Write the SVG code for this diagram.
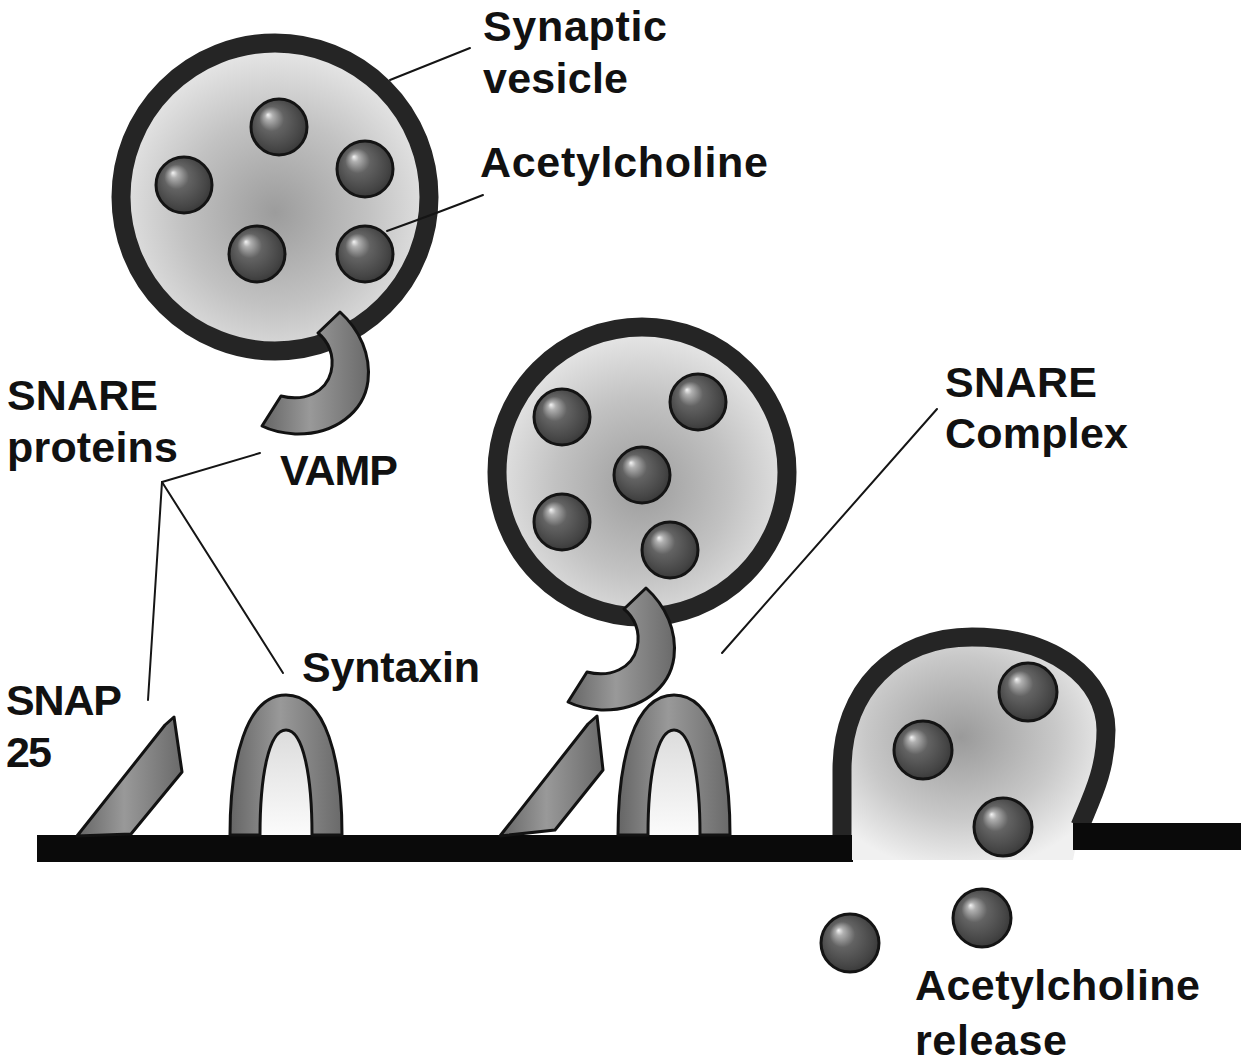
<svg xmlns="http://www.w3.org/2000/svg" width="1243" height="1064" viewBox="0 0 1243 1064">
  <defs>
    <!-- shaded acetylcholine sphere -->
    <radialGradient id="ballGrad" cx="0.48" cy="0.48" r="0.58" fx="0.3" fy="0.28">
      <stop offset="0" stop-color="#f4f4f4"/>
      <stop offset="0.12" stop-color="#b0b0b0"/>
      <stop offset="0.38" stop-color="#636363"/>
      <stop offset="0.8" stop-color="#454545"/>
      <stop offset="1" stop-color="#333333"/>
    </radialGradient>
    <!-- vesicle lumen -->
    <radialGradient id="lumenGrad" cx="0.5" cy="0.55" r="0.55">
      <stop offset="0" stop-color="#9c9c9c"/>
      <stop offset="0.55" stop-color="#c2c2c2"/>
      <stop offset="1" stop-color="#e9e9e9"/>
    </radialGradient>
    <radialGradient id="exoGrad" cx="0.45" cy="0.45" r="0.6">
      <stop offset="0" stop-color="#9a9a9a"/>
      <stop offset="0.6" stop-color="#c8c8c8"/>
      <stop offset="1" stop-color="#f0f0f0"/>
    </radialGradient>
    <!-- protein body shading -->
    <linearGradient id="protGrad" x1="0" y1="0" x2="1" y2="0">
      <stop offset="0" stop-color="#656565"/>
      <stop offset="0.45" stop-color="#999999"/>
      <stop offset="1" stop-color="#6a6a6a"/>
    </linearGradient>
    <linearGradient id="holeGrad" x1="0" y1="0" x2="0" y2="1">
      <stop offset="0" stop-color="#dcdcdc"/>
      <stop offset="1" stop-color="#fbfbfb"/>
    </linearGradient>
    <style>
      .ball { fill: url(#ballGrad); stroke: #141414; stroke-width: 3; }
      .lumen { fill: url(#lumenGrad); }
      .membrane { fill: none; stroke: #252525; stroke-width: 19; }
      .prot { fill: url(#protGrad); stroke: #121212; stroke-width: 3; stroke-linejoin: round; }
      .hole { fill: url(#holeGrad); }
      .bar { fill: #0a0a0a; }
      .lead { fill: none; stroke: #151515; stroke-width: 2; stroke-linecap: round; }
      .lbl { font-family: "Liberation Sans", Arial, sans-serif; font-weight: bold; font-size: 43px; fill: #111; }
    </style>
    <!-- VAMP hook, drawn in the frame of the upper vesicle -->
    <path id="hook" d="M 340 312 C 360 330, 371 355, 368 381 C 364 412, 335 435, 295 434 C 281 433, 270 430, 262 426 L 281 396 C 305 402, 326 392, 331 372 C 335 355, 328 341, 318 333 Z"/>
    <!-- syntaxin arch, origin at the centre of its foot -->
    <path id="arch" d="M -56 0 C -56 -75, -40 -140, 0 -140 C 40 -140, 56 -75, 56 0 L 26 0 C 26 -60, 17 -105, 0 -105 C -17 -105, -26 -60, -26 0 Z"/>
    <path id="archHole" d="M 26 0 C 26 -60, 17 -105, 0 -105 C -17 -105, -26 -60, -26 0 Z"/>
  </defs>

  <rect width="1243" height="1064" fill="#ffffff"/>

  <!-- plasma membrane -->
  <g id="membrane">
    <rect class="bar" x="37" y="835" width="816" height="27"/>
    <rect class="bar" x="1073" y="823" width="168" height="27"/>
  </g>

  <!-- free vesicle -->
  <g id="vesicle-free">
    <circle class="lumen" cx="275" cy="197" r="154"/>
    <circle class="membrane" cx="275" cy="197" r="154"/>
    <circle class="ball" cx="279" cy="127" r="28"/>
    <circle class="ball" cx="365" cy="169" r="28"/>
    <circle class="ball" cx="184" cy="185" r="28"/>
    <circle class="ball" cx="257" cy="254" r="28"/>
    <circle class="ball" cx="365" cy="254" r="28"/>
    <use href="#hook" class="prot"/>
  </g>

  <!-- free SNAP-25 -->
  <g id="snap25-free">
    <path class="prot" d="M 77 836 L 165 725 L 174 717 L 182 772 L 131 834 Z"/>
  </g>

  <!-- free syntaxin -->
  <g id="syntaxin-free" transform="translate(286 835)">
    <use href="#archHole" class="hole"/>
    <use href="#arch" class="prot"/>
  </g>

  <!-- docked vesicle forming the SNARE complex -->
  <g id="vesicle-docked">
    <circle class="lumen" cx="642" cy="472" r="145"/>
    <circle class="membrane" cx="642" cy="472" r="145"/>
    <circle class="ball" cx="562" cy="417" r="28"/>
    <circle class="ball" cx="698" cy="402" r="28"/>
    <circle class="ball" cx="642" cy="475" r="28"/>
    <circle class="ball" cx="562" cy="522" r="28"/>
    <circle class="ball" cx="670" cy="550" r="28"/>
  </g>
  <g id="snap25-docked">
    <path class="prot" d="M 500 836 L 588 724 L 597 716 L 603 770 L 555 830 Z"/>
  </g>
  <g id="syntaxin-docked" transform="translate(674 835)">
    <use href="#archHole" class="hole"/>
    <use href="#arch" class="prot"/>
  </g>
  <g id="vamp-docked" transform="translate(306 276)">
    <use href="#hook" class="prot"/>
  </g>

  <!-- vesicle fusing with the membrane -->
  <g id="vesicle-fusing">
    <path fill="url(#exoGrad)" d="M 842 860 L 842 770 C 842 690, 895 637, 972 637 C 1055 637, 1106 680, 1106 730 C 1106 770, 1092 795, 1080 825 L 1073 860 Z"/>
    <path class="membrane" d="M 842 838 L 842 770 C 842 690, 895 637, 972 637 C 1055 637, 1106 680, 1106 730 C 1106 770, 1092 797, 1080 826"/>
    <rect class="bar" x="1073" y="823" width="20" height="27"/>
    <rect class="bar" x="832" y="835" width="20" height="27"/>
    <circle class="ball" cx="1028" cy="692" r="29"/>
    <circle class="ball" cx="923" cy="750" r="29"/>
    <circle class="ball" cx="1003" cy="827" r="29"/>
  </g>

  <!-- released transmitter -->
  <g id="released">
    <circle class="ball" cx="850" cy="943" r="29"/>
    <circle class="ball" cx="982" cy="918" r="29"/>
  </g>

  <!-- label leaders -->
  <g id="connectors">
    <line class="lead" x1="390" y1="80" x2="470" y2="48"/>
    <path class="lead" d="M 387 231 Q 440 212, 483 195"/>
    <line class="lead" x1="162" y1="482" x2="260" y2="453"/>
    <line class="lead" x1="162" y1="482" x2="148" y2="700"/>
    <line class="lead" x1="162" y1="482" x2="283" y2="673"/>
    <line class="lead" x1="722" y1="653" x2="937" y2="409"/>
  </g>

  <!-- labels -->
  <g id="labels">
    <text class="lbl" x="483" y="41" textLength="184">Synaptic</text>
    <text class="lbl" x="483" y="93" textLength="145">vesicle</text>
    <text class="lbl" x="480" y="177" textLength="288">Acetylcholine</text>
    <text class="lbl" x="7" y="410" textLength="151">SNARE</text>
    <text class="lbl" x="7" y="462" textLength="171">proteins</text>
    <text class="lbl" x="280" y="485" textLength="118">VAMP</text>
    <text class="lbl" x="302" y="682" textLength="178">Syntaxin</text>
    <text class="lbl" x="6" y="715" textLength="116">SNAP</text>
    <text class="lbl" x="6" y="767" textLength="46">25</text>
    <text class="lbl" x="945" y="397" textLength="152">SNARE</text>
    <text class="lbl" x="945" y="448" textLength="183">Complex</text>
    <text class="lbl" x="915" y="1000" textLength="285">Acetylcholine</text>
    <text class="lbl" x="915" y="1055" textLength="152">release</text>
  </g>
</svg>
